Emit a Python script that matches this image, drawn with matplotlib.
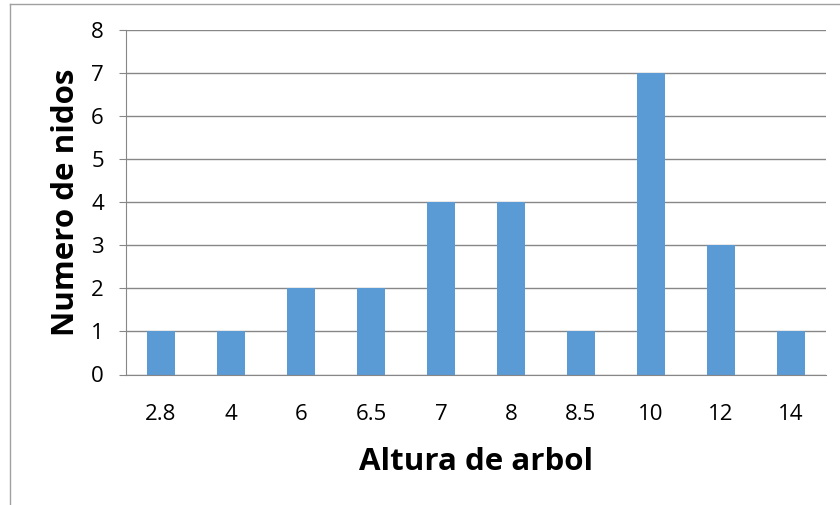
import matplotlib.pyplot as plt
import numpy as np
from matplotlib.lines import Line2D

# Datos del grafico
alturas = ["2.8", "4", "6", "6.5", "7", "8", "8.5", "10", "12", "14"]
nidos = [1, 1, 2, 2, 4, 4, 1, 7, 3, 1]

plt.rcParams['font.family'] = ['Open Sans', 'DejaVu Sans']

fig = plt.figure(figsize=(8.4, 5.05), dpi=100)
ax = fig.add_axes([126 / 840, 1 - 374.5 / 505, 700 / 840, 344.5 / 505])

x = np.arange(len(alturas))
ax.bar(x, nidos, width=0.4, color="#5B9BD5", zorder=3)

ax.set_xlim(-0.5, len(alturas) - 0.5)
ax.set_ylim(0, 8)
ax.set_yticks(range(0, 9))
ax.set_xticks(x)
ax.set_xticklabels(alturas)

gris = "#878787"
ax.grid(axis="y", color=gris, linewidth=1, zorder=0)
for s in ["top", "right"]:
    ax.spines[s].set_visible(False)
ax.spines["left"].set_color(gris)
ax.spines["bottom"].set_color(gris)
ax.spines["bottom"].set_zorder(4)
ax.tick_params(axis="y", length=5, color=gris, labelsize=16, pad=11)
ax.tick_params(axis="x", length=0, labelsize=16, pad=21)

ax.set_xlabel("Altura de arbol", fontsize=22.5, fontweight="bold", labelpad=16)
ax.set_ylabel("Numero de nidos", fontsize=22.5, fontweight="bold", labelpad=7)

# Marco exterior del grafico
fig.add_artist(Line2D([10 / 840, 1], [1 - 4 / 505] * 2, color="#A0A0A0", lw=1))
fig.add_artist(Line2D([10 / 840] * 2, [0, 1 - 4 / 505], color="#A0A0A0", lw=1))

fig.savefig("out.png", dpi=100)
